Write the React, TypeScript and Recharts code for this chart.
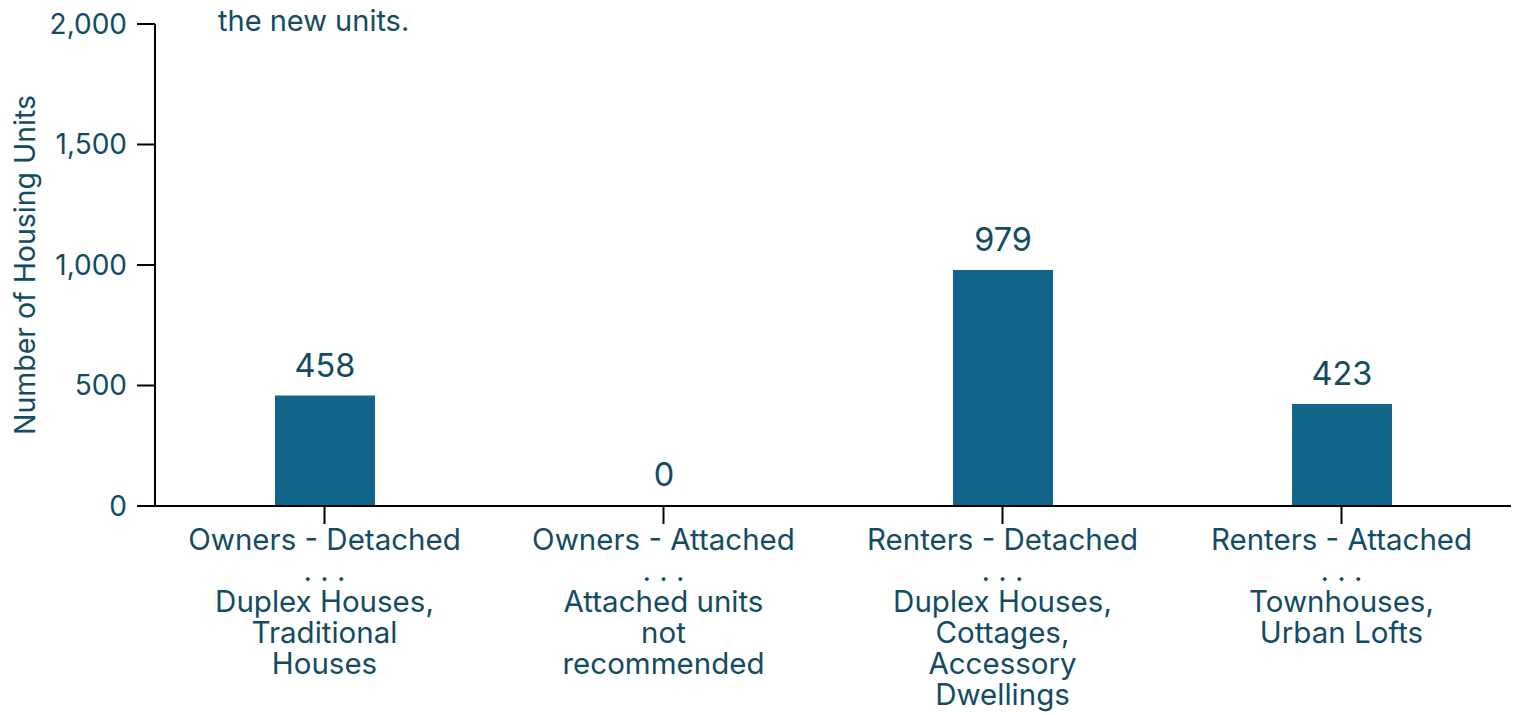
import { Bar, BarChart, LabelList, XAxis, YAxis } from "recharts";

const categories = [
  "Owners - Detached",
  "Owners - Attached",
  "Renters - Detached",
  "Renters - Attached",
];
const subLabels = [
  ["Duplex Houses,", "Traditional", "Houses"],
  ["Attached units", "not", "recommended"],
  ["Duplex Houses,", "Cottages,", "Accessory", "Dwellings"],
  ["Townhouses,", "Urban Lofts"],
];
const units = [458, 0, 979, 423];
const yTicks = [0, 500, 1000, 1500, 2000];

const data = categories.map((c, i) => ({ name: c, units: units[i] }));

const TEXT = "#134b63";
const BAR = "#11658b";
const FONT = "Inter, 'Open Sans', sans-serif";

function CategoryTick(props: any) {
  const { x, y, payload, index } = props;
  const lines = [payload.value, ". . .", ...(subLabels[index] || [])];
  return (
    <text x={x} y={y} textAnchor="middle" fill={TEXT} fontSize={29.5} fontFamily={FONT}>
      {lines.map((l, i) => (
        <tspan key={i} x={x} dy={i === 0 ? 24 : 31}>
          {l}
        </tspan>
      ))}
    </text>
  );
}

export default function App() {
  return (
    <div style={{ position: "absolute", left: 0, top: 0, width: 1518, height: 715, background: "#fff", overflow: "hidden" }}>
      <div
        style={{
          position: "absolute",
          left: 218,
          top: 6,
          fontFamily: FONT,
          fontSize: 29,
          lineHeight: "29px",
          color: TEXT,
          whiteSpace: "nowrap",
        }}
      >
        the new units.
      </div>
      <BarChart
        width={1518}
        height={715}
        data={data}
        margin={{ top: 24, right: 7, bottom: 0, left: 0 }}
        barSize={100}
      >
        <XAxis
          dataKey="name"
          height={209}
          interval={0}
          tick={<CategoryTick />}
          tickSize={18}
          tickMargin={2}
          axisLine={{ stroke: "#000", strokeWidth: 2 }}
          tickLine={{ stroke: "#000", strokeWidth: 2 }}
        />
        <YAxis
          width={155}
          domain={[0, 2000]}
          ticks={yTicks}
          interval={0}
          tickFormatter={(v: number) => v.toLocaleString("en-US")}
          tick={{ fill: TEXT, fontSize: 28, fontFamily: FONT }}
          tickSize={18}
          tickMargin={10}
          axisLine={{ stroke: "#000", strokeWidth: 2 }}
          tickLine={{ stroke: "#000", strokeWidth: 2 }}
          label={() => (
            <text
              transform="translate(24,265) rotate(-90)"
              textAnchor="middle"
              dominantBaseline="central"
              fill={TEXT}
              fontSize={28.5}
              fontFamily={FONT}
            >
              Number of Housing Units
            </text>
          )}
        />
        <Bar dataKey="units" fill={BAR} minPointSize={1} isAnimationActive={false}>
          <LabelList dataKey="units" position="top" offset={19} fill={TEXT} fontSize={32.5} fontFamily={FONT} />
        </Bar>
      </BarChart>
    </div>
  );
}
